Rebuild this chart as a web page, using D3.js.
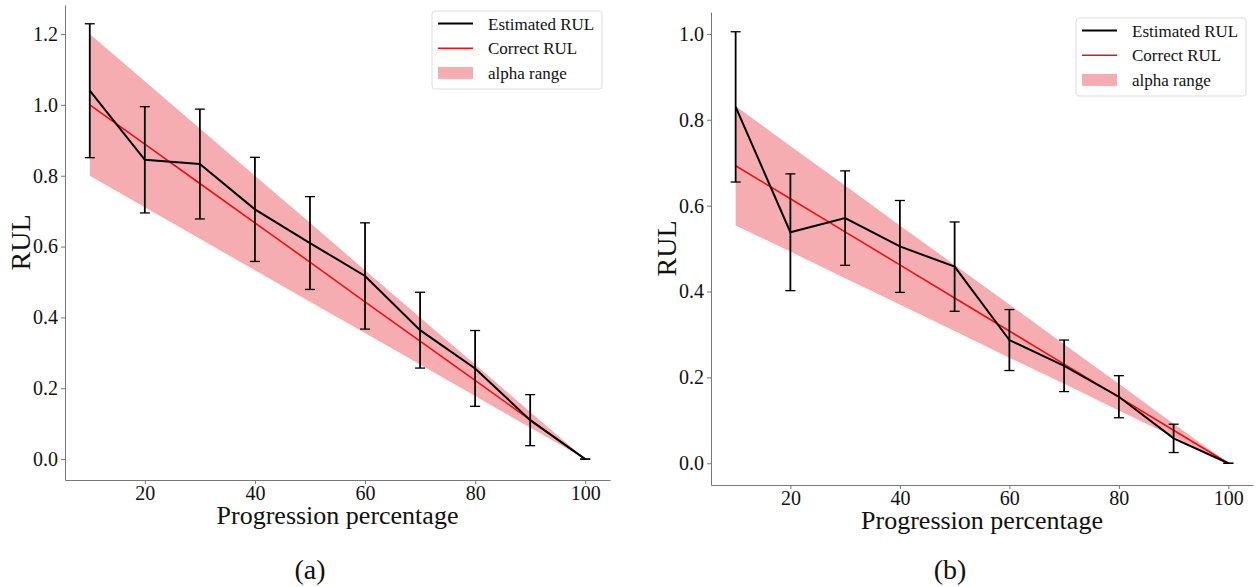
<!DOCTYPE html>
<html lang="en">
<head>
<meta charset="UTF-8">
<title>RUL estimation</title>
<script src="https://d3js.org/d3.v7.min.js"></script>
<style>
  body { margin: 0; background: #fff; }
  svg { display: block; font-family: "Liberation Serif", "Times New Roman", serif; }
  .domain, .tick line { stroke: #777; }
  .tick text { font-size: 20px; fill: #111; font-family: "Liberation Serif", "Times New Roman", serif; }
</style>
</head>
<body>
<svg width="1258" height="587"></svg>
<script>
// progression percentage
const progress = [10, 20, 30, 40, 50, 60, 70, 80, 90, 100];
const xTicks = [20, 40, 60, 80, 100];

// panel (a)
const estA = [1.04, 0.845, 0.833, 0.705, 0.61, 0.517, 0.364, 0.256, 0.11, 0.0];
const errA = [0.189, 0.15, 0.155, 0.147, 0.131, 0.15, 0.107, 0.107, 0.072, 0.0];
const correctA = [1.0, 0.889, 0.778, 0.667, 0.556, 0.444, 0.333, 0.222, 0.111, 0.0];
const upperA = [1.2, 1.067, 0.933, 0.8, 0.667, 0.533, 0.4, 0.267, 0.133, 0.0];
const lowerA = [0.8, 0.711, 0.622, 0.533, 0.444, 0.356, 0.267, 0.178, 0.089, 0.0];
const yTicksA = [0.0, 0.2, 0.4, 0.6, 0.8, 1.0, 1.2];

// panel (b)
const estB = [0.83, 0.538, 0.571, 0.505, 0.458, 0.287, 0.227, 0.155, 0.058, 0.0];
const errB = [0.175, 0.136, 0.11, 0.107, 0.104, 0.071, 0.06, 0.049, 0.033, 0.0];
const correctB = [0.693, 0.616, 0.539, 0.462, 0.385, 0.308, 0.231, 0.154, 0.077, 0.0];
const upperB = [0.832, 0.739, 0.647, 0.554, 0.462, 0.37, 0.277, 0.185, 0.092, 0.0];
const lowerB = [0.554, 0.493, 0.431, 0.37, 0.308, 0.246, 0.185, 0.123, 0.062, 0.0];
const yTicksB = [0.0, 0.2, 0.4, 0.6, 0.8, 1.0];

const legendItems = ["Estimated RUL", "Correct RUL", "alpha range"];
const bandColor = "#f6adb1";

const svg = d3.select("svg");

function drawPanel(p) {
  const g = svg.append("g");
  const x = d3.scaleLinear().domain([5.5, 104.5]).range([p.left, p.right]);
  const y = d3.scaleLinear().domain(p.yDomain).range([p.bottom, p.top]);

  g.append("g").attr("transform", `translate(0,${p.bottom})`)
    .call(d3.axisBottom(x).tickValues(xTicks).tickSize(4).tickSizeOuter(0).tickPadding(2).tickFormat(d3.format("d")));
  g.append("g").attr("transform", `translate(${p.left},0)`)
    .call(d3.axisLeft(y).tickValues(p.yTicks).tickSize(4).tickSizeOuter(0).tickPadding(3).tickFormat(d3.format(".1f")));

  // alpha band
  g.append("path")
    .datum(progress.map((d, i) => [d, p.lower[i], p.upper[i]]))
    .attr("fill", bandColor)
    .attr("d", d3.area().x(d => x(d[0])).y0(d => y(d[1])).y1(d => y(d[2])));

  // correct RUL
  g.append("path")
    .datum(progress.map((d, i) => [d, p.correct[i]]))
    .attr("fill", "none").attr("stroke", "#ee1111").attr("stroke-width", 1.6)
    .attr("d", d3.line().x(d => x(d[0])).y(d => y(d[1])));

  // error bars
  const eb = g.append("g").attr("stroke", "#000").attr("stroke-width", 1.8);
  progress.forEach((d, i) => {
    const cx = x(d), hi = y(p.est[i] + p.err[i]), lo = y(p.est[i] - p.err[i]);
    eb.append("line").attr("x1", cx).attr("x2", cx).attr("y1", hi).attr("y2", lo);
    eb.append("line").attr("x1", cx - 5).attr("x2", cx + 5).attr("y1", hi).attr("y2", hi).attr("stroke-width", 1.3);
    eb.append("line").attr("x1", cx - 5).attr("x2", cx + 5).attr("y1", lo).attr("y2", lo).attr("stroke-width", 1.3);
  });

  // estimated RUL
  g.append("path")
    .datum(progress.map((d, i) => [d, p.est[i]]))
    .attr("fill", "none").attr("stroke", "#000").attr("stroke-width", 2)
    .attr("d", d3.line().x(d => x(d[0])).y(d => y(d[1])));

  // axis titles
  g.append("text")
    .attr("x", (p.left + p.right) / 2).attr("y", p.bottom + 44)
    .attr("text-anchor", "middle").attr("font-size", 26).attr("fill", "#111")
    .text("Progression percentage");
  g.append("text")
    .attr("transform", `translate(${p.left - 35},${(p.top + p.bottom) / 2}) rotate(-90)`)
    .attr("text-anchor", "middle").attr("font-size", 28).attr("fill", "#111")
    .text("RUL");
  g.append("text")
    .attr("x", p.capX).attr("y", 579)
    .attr("text-anchor", "middle").attr("font-size", 28).attr("fill", "#111")
    .text(p.caption);

  // legend
  const lg = g.append("g").attr("transform", `translate(${p.legX},${p.legY})`);
  lg.append("rect").attr("width", 170).attr("height", 78).attr("rx", 3)
    .attr("fill", "#fff").attr("stroke", "#ddd");
  legendItems.forEach((t, i) => {
    const ry = 12.5 + i * 24.7;
    if (i < 2) {
      lg.append("line").attr("x1", 6).attr("x2", 41).attr("y1", ry).attr("y2", ry)
        .attr("stroke", i === 0 ? "#000" : "#ee1111").attr("stroke-width", i === 0 ? 2 : 1.6);
    } else {
      lg.append("rect").attr("x", 6).attr("y", ry - 6).attr("width", 35).attr("height", 12).attr("fill", bandColor);
    }
    lg.append("text").attr("x", 56).attr("y", ry + 6).attr("font-size", 17).attr("fill", "#111").text(t);
  });
}

drawPanel({
  left: 65, right: 610, top: 5, bottom: 480, yDomain: [-0.059, 1.282], yTicks: yTicksA,
  est: estA, err: errA, correct: correctA, upper: upperA, lower: lowerA,
  caption: "(a)", capX: 310, legX: 432, legY: 11
});
drawPanel({
  left: 711, right: 1253, top: 12, bottom: 485, yDomain: [-0.0506, 1.051], yTicks: yTicksB,
  est: estB, err: errB, correct: correctB, upper: upperB, lower: lowerB,
  caption: "(b)", capX: 950, legX: 1076, legY: 18
});
</script>
</body>
</html>
